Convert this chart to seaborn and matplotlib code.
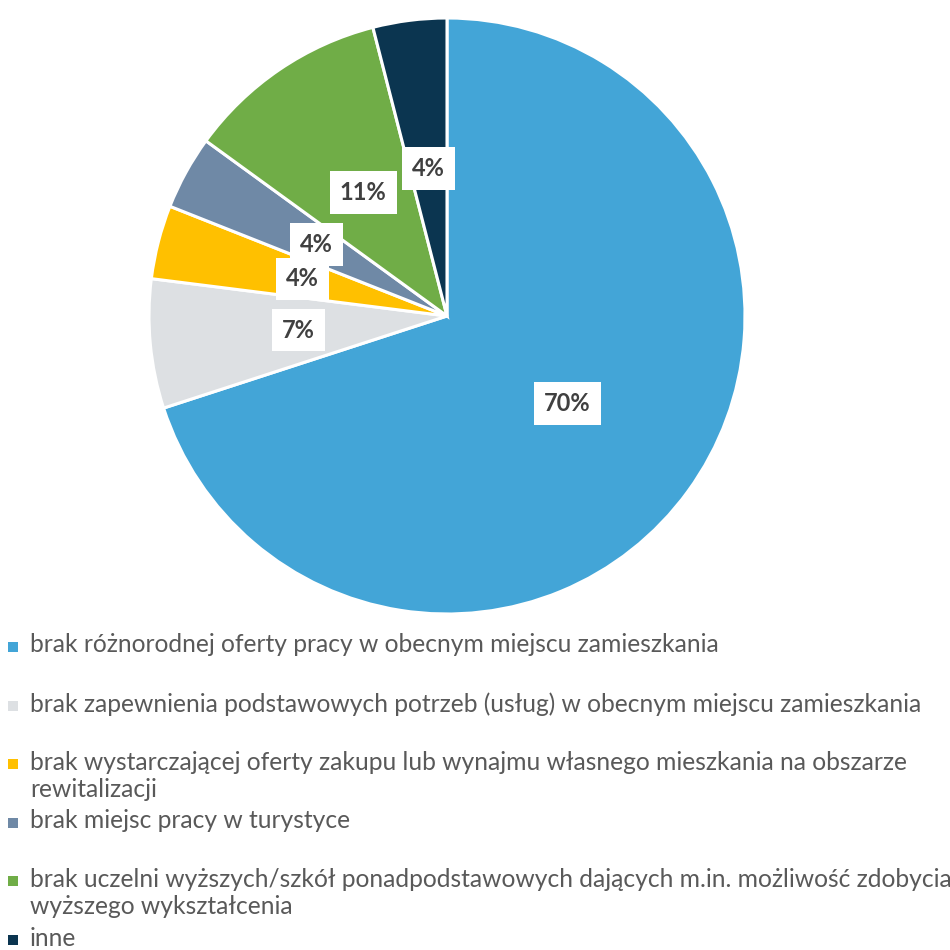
import matplotlib
matplotlib.use("Agg")
import matplotlib.pyplot as plt
from matplotlib.patches import Rectangle
import seaborn as sns

# chart data
categories = [
    "brak różnorodnej oferty pracy w obecnym miejscu zamieszkania",
    "brak zapewnienia podstawowych potrzeb (usług) w obecnym miejscu zamieszkania",
    "brak wystarczającej oferty zakupu lub wynajmu własnego mieszkania na obszarze\nrewitalizacji",
    "brak miejsc pracy w turystyce",
    "brak uczelni wyższych/szkół ponadpodstawowych dających m.in. możliwość zdobycia\nwyższego wykształcenia",
    "inne",
]
shares = [70, 7, 4, 4, 11, 4]
colors = ["#43A5D7", "#DDE0E3", "#FFC000", "#6F89A6", "#70AD47", "#0B3550"]

sns.set_theme(style="white")
palette = sns.color_palette(colors)

fig = plt.figure(figsize=(9.5, 9.5), dpi=100)
W = H = 950.0
# pie centre ~ (447, 316), radius ~ 298 px
ax = fig.add_axes([149 / W, 1 - 614 / H, 596 / W, 596 / H])

wedges, texts, autotexts = ax.pie(
    shares,
    colors=palette,
    startangle=90,
    counterclock=False,
    autopct="%d%%",
    pctdistance=0.5,
    wedgeprops=dict(edgecolor="white", linewidth=2.2),
    textprops=dict(color="#404040", fontsize=17, fontweight="bold", family=["Lato", "DejaVu Sans"]),
)
for t in autotexts:
    t.set_bbox(dict(facecolor="white", edgecolor="none", boxstyle="square,pad=0.42"))
ax.set_aspect("equal")
ax.set_xlim(-1, 1)
ax.set_ylim(-1, 1)
ax.axis("off")

# legend, one slot per entry, wrapped lines overflow into the gap
y0 = 647
step = 58.6
for i, (lab, col) in enumerate(zip(categories, palette)):
    y = y0 + step * i
    fig.add_artist(Rectangle((8 / W, 1 - (y + 5) / H), 10 / W, 10 / H,
                             transform=fig.transFigure, facecolor=col, edgecolor="none"))
    fig.text(30 / W, 1 - (y - 13.5) / H, lab, ha="left", va="top", color="#595959",
             fontsize=17.7, linespacing=1.22,
             family=["Lato", "DejaVu Sans"])

fig.savefig("out.png", dpi=100, facecolor="white")
